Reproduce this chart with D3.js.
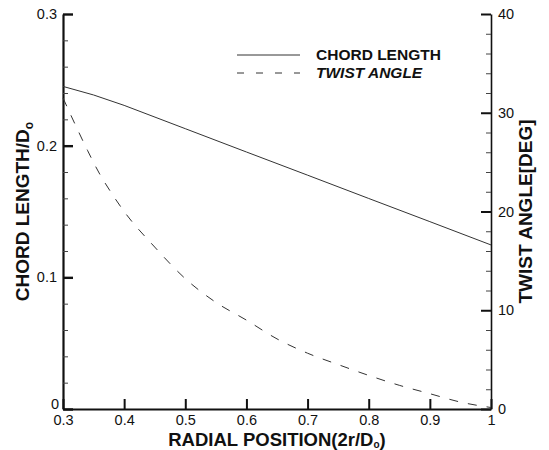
<!DOCTYPE html>
<html>
<head>
<meta charset="utf-8">
<script src="https://cdn.jsdelivr.net/npm/d3@7"></script>
<style>
  body { margin: 0; background: #fff; }
  text { font-family: "Liberation Sans", Arial, sans-serif; fill: #111; }
</style>
</head>
<body>
<div id="chart"></div>
<script>
// Data
const chordX = [0.30, 0.35, 0.40, 0.50, 0.60, 0.70, 0.80, 0.90, 1.00];
const chordLen = [0.2450, 0.2385, 0.2306, 0.2129, 0.1952, 0.1776, 0.1599, 0.1423, 0.1246];

const twistX = [0.30, 0.32, 0.34, 0.36, 0.38, 0.40, 0.45, 0.50, 0.55, 0.60, 0.65, 0.70, 0.75, 0.80, 0.85, 0.90, 0.95, 1.00];
const twistDeg = [31.5, 28.8, 26.2, 23.8, 21.8, 20.0, 16.4, 13.2, 10.8, 9.0, 7.1, 5.65, 4.5, 3.4, 2.4, 1.55, 0.7, 0.15];

const xTicks = [0.3, 0.4, 0.5, 0.6, 0.7, 0.8, 0.9, 1];
const leftTicks = [0, 0.1, 0.2, 0.3];
const rightTicks = [0, 10, 20, 30, 40];

// Chart geometry
const W = 549, H = 450;
const margin = { top: 14, right: 58, bottom: 41, left: 63 };
const width = W - margin.left - margin.right;
const height = H - margin.top - margin.bottom;

const svg = d3.select("#chart")
    .append("svg")
    .attr("width", W)
    .attr("height", H);

const g = svg.append("g")
    .attr("transform", `translate(${margin.left},${margin.top})`);

// Scales
const x = d3.scaleLinear().domain([0.3, 1]).range([0, width]);
const yL = d3.scaleLinear().domain([0, 0.3]).range([height, 0]);
const yR = d3.scaleLinear().domain([0, 40]).range([height, 0]);

const ink = "#111";

// Bottom axis (ticks point up into the plot)
const xAxis = g.append("g")
    .attr("transform", `translate(0,${height})`)
    .call(d3.axisBottom(x).tickValues(xTicks).tickSizeInner(-10).tickSizeOuter(0)
        .tickPadding(4).tickFormat(d => d === 1 ? "1" : d3.format(".1f")(d)));
xAxis.select(".domain").attr("stroke", ink).attr("stroke-width", 2);
xAxis.selectAll(".tick line").attr("stroke", ink).attr("stroke-width", 2);
xAxis.selectAll("text").attr("dy", null).attr("y", 16)
    .style("font-size", "14.5px").attr("fill", ink);

// Left axis: majors + minors pointing right
const leftAxis = g.append("g")
    .call(d3.axisLeft(yL).tickValues(leftTicks).tickSizeInner(-10).tickSizeOuter(0)
        .tickPadding(6).tickFormat(d => d === 0 ? "0" : d3.format(".1f")(d)));
leftAxis.select(".domain").attr("stroke", ink).attr("stroke-width", 2.2);
leftAxis.selectAll(".tick line").attr("stroke", ink).attr("stroke-width", 2.4);
leftAxis.selectAll("text").style("font-size", "14.5px").attr("fill", ink);
leftAxis.selectAll(".tick").filter(d => d === 0).select("text").attr("dy", "-0.05em").attr("x", -4);

g.append("g")
    .call(d3.axisLeft(yL).tickValues(d3.range(0.02, 0.3, 0.02).filter((v, i) => (i + 1) % 5 !== 0))
        .tickSizeInner(-5).tickSizeOuter(0).tickFormat(""))
    .call(a => a.select(".domain").remove())
    .selectAll(".tick line").attr("stroke", "#444").attr("stroke-width", 1);

// Right axis: majors + minors pointing left
const rightAxis = g.append("g")
    .attr("transform", `translate(${width},0)`)
    .call(d3.axisRight(yR).tickValues(rightTicks).tickSizeInner(-10).tickSizeOuter(0)
        .tickPadding(7).tickFormat(d3.format("d")));
rightAxis.select(".domain").attr("stroke", ink).attr("stroke-width", 1.6);
rightAxis.selectAll(".tick line").attr("stroke", ink).attr("stroke-width", 2);
rightAxis.selectAll("text").style("font-size", "14.5px").attr("fill", ink);

g.append("g")
    .attr("transform", `translate(${width},0)`)
    .call(d3.axisRight(yR).tickValues(d3.range(2, 40, 2).filter(v => v % 10 !== 0))
        .tickSizeInner(-5).tickSizeOuter(0).tickFormat(""))
    .call(a => a.select(".domain").remove())
    .selectAll(".tick line").attr("stroke", "#444").attr("stroke-width", 1);

// Lines
const chordLine = d3.line()
    .x((d, i) => x(chordX[i]))
    .y(d => yL(d));

const twistLine = d3.line()
    .curve(d3.curveMonotoneX)
    .x((d, i) => x(twistX[i]))
    .y(d => yR(d));

g.append("path")
    .datum(chordLen)
    .attr("fill", "none")
    .attr("stroke", "#333")
    .attr("stroke-width", 1)
    .attr("d", chordLine);

g.append("path")
    .datum(twistDeg)
    .attr("fill", "none")
    .attr("stroke", "#333")
    .attr("stroke-width", 1)
    .attr("stroke-dasharray", "9,10")
    .attr("d", twistLine);

// Legend
const legend = svg.append("g");
legend.append("line")
    .attr("x1", 237).attr("x2", 300).attr("y1", 55).attr("y2", 55)
    .attr("stroke", "#333").attr("stroke-width", 1);
legend.append("line")
    .attr("x1", 237).attr("x2", 300).attr("y1", 73).attr("y2", 73)
    .attr("stroke", "#333").attr("stroke-width", 1).attr("stroke-dasharray", "7,12");
legend.append("text")
    .attr("x", 316).attr("y", 60)
    .style("font-size", "15.5px").style("font-weight", "bold")
    .text("CHORD LENGTH");
legend.append("text")
    .attr("x", 316).attr("y", 78)
    .style("font-size", "15.5px").style("font-weight", "bold").style("font-style", "italic")
    .text("TWIST ANGLE");

// Axis titles
const xTitle = svg.append("text")
    .attr("x", margin.left + width / 2)
    .attr("y", 446)
    .attr("text-anchor", "middle")
    .style("font-size", "18.5px").style("font-weight", "bold");
xTitle.append("tspan").text("RADIAL POSITION(2r/D");
xTitle.append("tspan").attr("dy", 2).style("font-size", "10px").text("o");
xTitle.append("tspan").attr("dy", -2).text(")");

const yTitle = svg.append("text")
    .attr("transform", `translate(29,${margin.top + height / 2}) rotate(-90)`)
    .attr("text-anchor", "middle")
    .style("font-size", "19px").style("font-weight", "bold");
yTitle.append("tspan").text("CHORD LENGTH/D");
yTitle.append("tspan").attr("dy", 4).style("font-size", "12px").text("o");

svg.append("text")
    .attr("transform", `translate(532,${margin.top + height / 2}) rotate(-90)`)
    .attr("text-anchor", "middle")
    .style("font-size", "19px").style("font-weight", "bold")
    .text("TWIST ANGLE[DEG]");
</script>
</body>
</html>
